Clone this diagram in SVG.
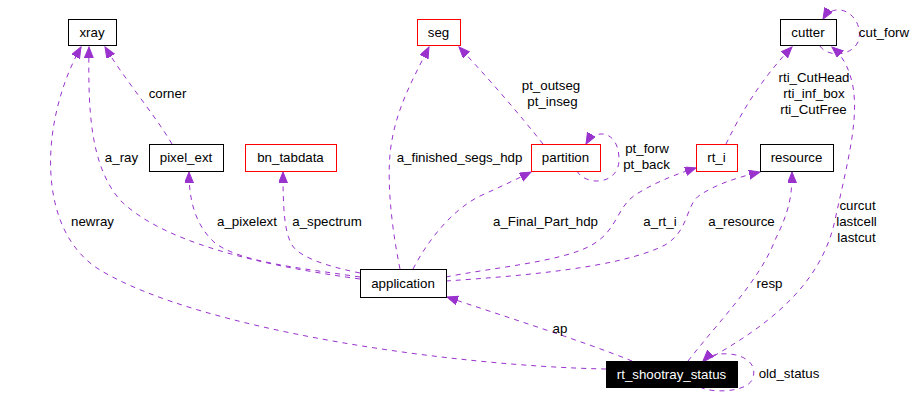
<svg xmlns="http://www.w3.org/2000/svg" width="917" height="400" viewBox="0 0 917 400">
<defs>
<style>
.n rect{fill:#fff;stroke:#000;stroke-width:1}
.n.r rect{stroke:#f00}
.n.m rect{fill:#000;stroke:#000}
text{font-family:"Liberation Sans",Arial,sans-serif;font-size:13.3px;fill:#000;text-anchor:middle}
.n.m text{fill:#fff}
.e path{fill:none;stroke:#9a32cd;stroke-width:1;stroke-dasharray:5,5;marker-end:url(#ah)}
</style>
<marker id="ah" markerUnits="userSpaceOnUse" markerWidth="13" markerHeight="10" refX="11" refY="4.5" orient="auto" viewBox="0 0 13 10">
<path d="M0,0 L11,4.5 L0,9 z" fill="#9a32cd" stroke="#9a32cd" stroke-width="1"/>
</marker>
</defs>
<rect width="917" height="400" fill="#fff"/>
<g id="edges" class="e">
<path d="M606,369 C450,366 200,330 100,270 C35,230 40,120 81,47"/>
<path d="M360,279 C250,264 160,240 120,200 C90,165 88,110 89,47"/>
<path d="M172,144 C155,115 125,80 105,47"/>
<path d="M360,277 C300,268 240,262 215,243 C195,225 189,200 189,172"/>
<path d="M360,273 C330,267 300,258 292,245 C284,232 283,205 283,172"/>
<path d="M400,269 C390,220 386,170 392,140 C398,105 415,75 429,47"/>
<path d="M543,144 C520,115 490,80 459,47"/>
<path d="M577,171 C585,186 620,186 619,158 C618,130 595,128 586,144"/>
<path d="M413,269 C428,240 452,210 480,196 C500,187 515,180 531,172"/>
<path d="M446,277 C490,268 560,262 590,246 C620,230 615,205 640,192 C660,180 680,173 696,168"/>
<path d="M446,281 C520,276 620,268 665,245 C690,230 685,205 700,195 C715,185 735,178 760,172"/>
<path d="M688,361 C720,320 760,280 775,240 C790,210 792,195 792,172"/>
<path d="M705,361 C760,330 820,290 835,220 C848,160 862,110 850,75 C846,62 840,54 832,47"/>
<path d="M726,144 C740,115 760,80 792,47"/>
<path d="M820,46 C826,56 850,58 858,42 C864,25 850,8 836,10 C830,11 826,14 823,19"/>
<path d="M632,361 C580,340 500,315 447,297"/>
<path d="M700,387 C710,393 745,393 752,380 C760,362 740,352 720,354 C712,355 707,357 703,361"/>
</g>
<g id="labels">
<text x="167.5" y="97.5">corner</text>
<text x="121.5" y="161.5">a_ray</text>
<text x="92.5" y="225.5">newray</text>
<text x="247" y="225.5">a_pixelext</text>
<text x="327" y="225.5">a_spectrum</text>
<text x="459.5" y="161.5">a_finished_segs_hdp</text>
<text x="551" y="89.5">pt_outseg</text>
<text x="552.5" y="105.5">pt_inseg</text>
<text x="647" y="152.5">pt_forw</text>
<text x="646.5" y="168.5">pt_back</text>
<text x="814" y="81.5">rti_CutHead</text>
<text x="814" y="97.5">rti_inf_box</text>
<text x="813.5" y="113.5">rti_CutFree</text>
<text x="884" y="36.5">cut_forw</text>
<text x="545.5" y="225.5">a_Final_Part_hdp</text>
<text x="660" y="225.5">a_rt_i</text>
<text x="741.5" y="225.5">a_resource</text>
<text x="857.5" y="209.5">curcut</text>
<text x="856.5" y="225.5">lastcell</text>
<text x="856.5" y="241.5">lastcut</text>
<text x="769.5" y="287.5">resp</text>
<text x="560" y="332.5">ap</text>
<text x="789" y="377.5">old_status</text>
</g>
<g id="xray" class="n"><rect x="68.5" y="19.5" width="48" height="26"/><text x="92" y="36.5">xray</text></g>
<g id="pixel_ext" class="n"><rect x="149.5" y="144.5" width="74" height="27"/><text x="186" y="162">pixel_ext</text></g>
<g id="bn_tabdata" class="n r"><rect x="245.5" y="144.5" width="91" height="27"/><text x="290.5" y="162">bn_tabdata</text></g>
<g id="seg" class="n r"><rect x="417.5" y="19.5" width="43" height="26"/><text x="438.5" y="36.5">seg</text></g>
<g id="partition" class="n r"><rect x="531.5" y="144.5" width="69" height="27"/><text x="565.5" y="162">partition</text></g>
<g id="cutter" class="n"><rect x="780.5" y="19.5" width="56" height="26"/><text x="808" y="36.5">cutter</text></g>
<g id="rt_i" class="n r"><rect x="696.5" y="144.5" width="41" height="27"/><text x="716.5" y="162">rt_i</text></g>
<g id="resource" class="n"><rect x="760.5" y="144.5" width="73" height="27"/><text x="796.5" y="162">resource</text></g>
<g id="application" class="n"><rect x="360.5" y="269.5" width="86" height="28"/><text x="403" y="287.5">application</text></g>
<g id="rt_shootray_status" class="n m"><rect x="606.5" y="361.5" width="131" height="26"/><text x="671.5" y="378.5">rt_shootray_status</text></g>
</svg>
